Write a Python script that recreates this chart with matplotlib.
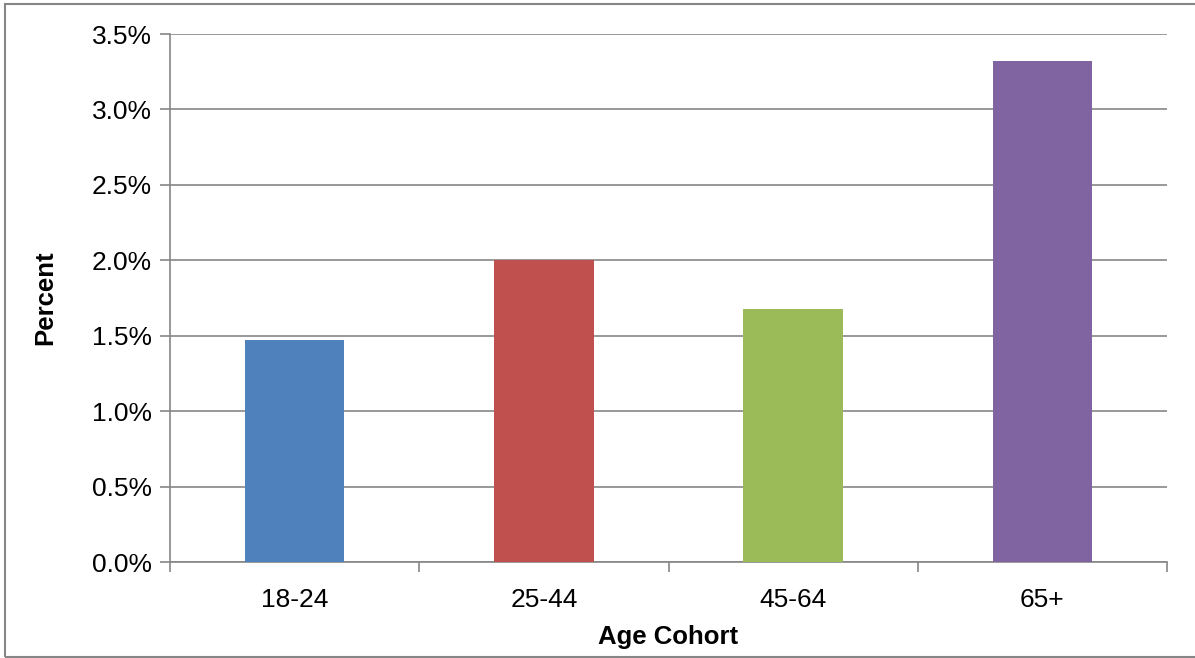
import matplotlib
matplotlib.use("Agg")
import matplotlib.pyplot as plt
from matplotlib.patches import Rectangle
from matplotlib.ticker import FuncFormatter, MultipleLocator

cohorts = ["18-24", "25-44", "45-64", "65+"]
percent = [1.47, 2.00, 1.68, 3.32]
colors = ["#4f81bd", "#c0504d", "#9bbb59", "#8064a2"]

plt.rcParams["font.family"] = ["Liberation Sans", "DejaVu Sans"]
GRAY = "#868686"

fig = plt.figure(figsize=(11.95, 6.58), dpi=100)
ax = fig.add_axes([170 / 1195, 96 / 658, 997 / 1195, 528 / 658])

x = range(len(cohorts))
ax.bar(x, percent, width=0.4, color=colors, zorder=3)

ax.set_xlim(-0.5, len(cohorts) - 0.5)
ax.set_ylim(0, 3.5)
ax.yaxis.set_major_locator(MultipleLocator(0.5))
ax.yaxis.set_major_formatter(FuncFormatter(lambda v, _: f"{v:.1f}%"))
ax.grid(axis="y", color=GRAY, lw=1.2, zorder=0)

# category boundaries get the tick marks, labels sit in between
ax.set_xticks([i + 0.5 for i in range(-1, len(cohorts))])
ax.set_xticklabels([])
ax.set_xticks(list(x), minor=True)
ax.set_xticklabels(cohorts, minor=True)
ax.tick_params(axis="x", which="major", length=7, width=1.2, color=GRAY)
ax.tick_params(axis="x", which="minor", length=0, pad=19, labelsize=19)
ax.tick_params(axis="y", length=7, width=1.2, color=GRAY, labelsize=19, pad=6)

for s in ["top", "right"]:
    ax.spines[s].set_visible(False)
for s in ["left", "bottom"]:
    ax.spines[s].set_color(GRAY)
    ax.spines[s].set_linewidth(1.2)

ax.set_xlabel("Age Cohort", fontsize=18.5, fontweight="bold", labelpad=9)
ax.set_ylabel("Percent", fontsize=18.5, fontweight="bold", labelpad=25)

fig.patches.append(Rectangle((5 / 1195, 1 / 658), 1.0, 653 / 658, transform=fig.transFigure,
                             fill=False, edgecolor=GRAY, lw=1.5))

fig.savefig("out.png", dpi=100)
